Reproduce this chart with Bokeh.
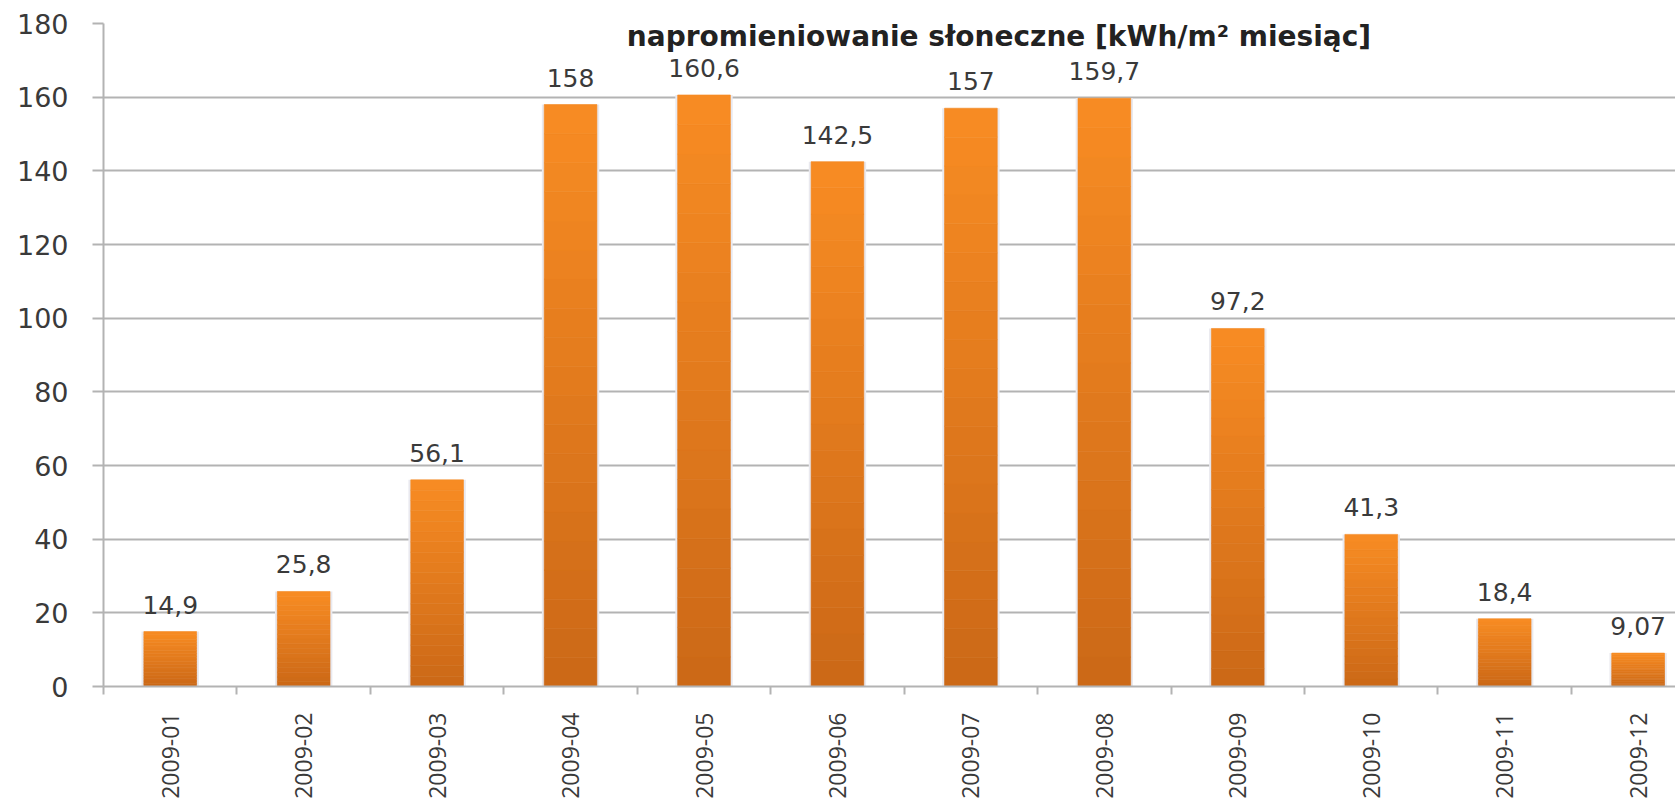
import math
from bokeh.plotting import figure
from bokeh.models import Range1d, FixedTicker, ColumnDataSource
from bokeh.core.properties import value
from bokeh.embed import file_html
from bokeh.resources import INLINE

# ---- data ----
categories = ["2009-01", "2009-02", "2009-03", "2009-04", "2009-05", "2009-06",
              "2009-07", "2009-08", "2009-09", "2009-10", "2009-11", "2009-12"]
values = [14.9, 25.8, 56.1, 158, 160.6, 142.5, 157, 159.7, 97.2, 41.3, 18.4, 9.07]
title_text = "napromieniowanie słoneczne [kWh/m² miesiąc]"
y_ticks = [0, 20, 40, 60, 80, 100, 120, 140, 160, 180]

n = len(categories)
centers = [i + 0.5 for i in range(n)]
bounds = [i for i in range(n + 1)]

p = figure(width=1675, height=804, output_backend="svg", toolbar_location=None,
           x_range=Range1d(0, 11.78), y_range=Range1d(0, 180),
           min_border_left=103, min_border_right=0, min_border_top=23,
           min_border_bottom=118,
           background_fill_color="white", border_fill_color="white")
p.outline_line_color = None

# grid
p.xgrid.grid_line_color = None
p.ygrid.ticker = FixedTicker(ticks=y_ticks)
p.ygrid.grid_line_color = "#b3b3b3"
p.ygrid.grid_line_width = 2

# y axis
p.yaxis.ticker = FixedTicker(ticks=y_ticks)
p.yaxis.axis_line_color = "#b3b3b3"
p.yaxis.axis_line_width = 2
p.yaxis.major_tick_line_color = "#b3b3b3"
p.yaxis.major_tick_line_width = 2
p.yaxis.major_tick_out = 11
p.yaxis.major_tick_in = 0
p.yaxis.minor_tick_line_color = None
p.yaxis.major_label_standoff = 24
p.yaxis.major_label_text_font = "DejaVu Sans"
p.yaxis.major_label_text_font_size = "27px"
p.yaxis.major_label_text_color = "#3a3a3a"

# x axis
p.xaxis.ticker = FixedTicker(ticks=centers, minor_ticks=bounds)
p.xaxis.major_label_overrides = {c: lab for c, lab in zip(centers, categories)}
p.xaxis.major_label_orientation = math.pi / 2
p.xaxis.axis_line_color = "#b3b3b3"
p.xaxis.axis_line_width = 2
p.xaxis.major_tick_line_color = None
p.xaxis.major_tick_out = 0
p.xaxis.major_tick_in = 0
p.xaxis.minor_tick_line_color = "#b3b3b3"
p.xaxis.minor_tick_line_width = 2
p.xaxis.minor_tick_out = 8
p.xaxis.minor_tick_in = 0
p.xaxis.axis_label_standoff = 0
p.xaxis.major_label_standoff = 18
p.xaxis.major_label_text_font = "Open Sans"
p.xaxis.major_label_text_font_size = "23px"
p.xaxis.major_label_text_color = "#3a3a3a"

# bar shadows
p.vbar(x=centers, top=values, bottom=0, width=0.43, fill_color="#e9e9ef",
       line_color=None)

# gradient bars built from slices of each bar's value
dark = (0xCB, 0x68, 0x17)
bright = (0xF8, 0x8C, 0x23)
N = 20
xs, bots, tops, cols = [], [], [], []
for c, v in zip(centers, values):
    for k in range(N):
        t = (k + 0.5) / N
        rgb = tuple(int(round(d + (b - d) * t)) for d, b in zip(dark, bright))
        xs.append(c)
        bots.append(v * k / N)
        tops.append(v * (k + 1) / N)
        cols.append("#%02x%02x%02x" % rgb)
src = ColumnDataSource(dict(x=xs, bottom=bots, top=tops, color=cols))
p.vbar(x="x", bottom="bottom", top="top", width=0.395, fill_color="color",
       line_color="color", line_width=0.6, source=src)

# value labels
labels = [f"{v:g}".replace(".", ",") for v in values]
p.text(x=centers, y=values, text=labels, text_align="center",
       text_baseline="middle", y_offset=-27, text_font=value("DejaVu Sans"),
       text_font_size="25px", text_color="#3a3a3a")

# title inside the plot
p.text(x=[6.71], y=[176.4], text=[title_text], text_align="center",
       text_baseline="middle", text_font=value("DejaVu Sans"),
       text_font_style="bold", text_font_size="28px", text_color="#222222")

open("out.html", "w").write(file_html(p, INLINE))
